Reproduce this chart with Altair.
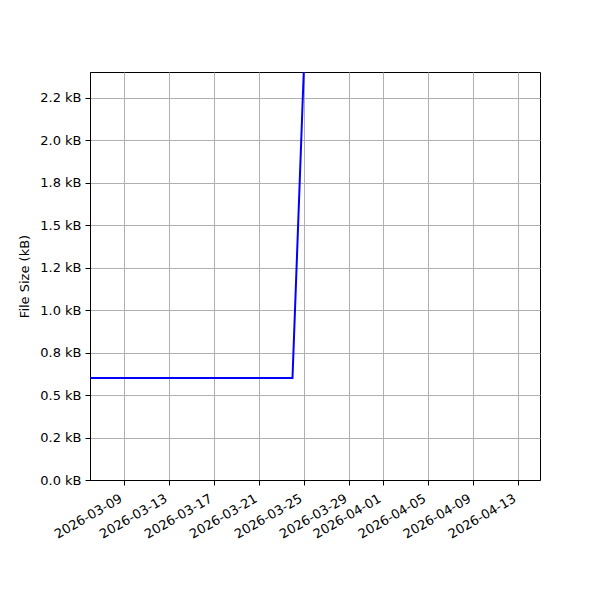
import altair as alt
import pandas as pd

dates = ["2026-03-06", "2026-03-24", "2026-03-25"]
sizes_bytes = [615, 615, 2460]

y_tick_values = [0, 256, 512, 768, 1024, 1280, 1536, 1792, 2048, 2304]
y_tick_labels = ["0.0 kB", "0.2 kB", "0.5 kB", "0.8 kB", "1.0 kB", "1.2 kB",
                 "1.5 kB", "1.8 kB", "2.0 kB", "2.2 kB"]
x_tick_dates = ["2026-03-09", "2026-03-13", "2026-03-17", "2026-03-21", "2026-03-25",
                "2026-03-29", "2026-04-01", "2026-04-05", "2026-04-09", "2026-04-13"]
x_domain = ["2026-03-06", "2026-04-15"]
y_domain = [0, 2460]


def dt(s):
    y, m, d = (int(p) for p in s.split("-"))
    return alt.DateTime(year=y, month=m, date=d, utc=True)


df = pd.DataFrame({"date": dates, "size": sizes_bytes})

label_array = "[" + ",".join("'" + l + "'" for l in y_tick_labels) + "]"

FONT = "DejaVu Sans"

chart = alt.Chart(df).mark_line(color="#0000ff", strokeWidth=2, clip=True).encode(
    x=alt.X(
        "date:T",
        scale=alt.Scale(type="utc", domain=[dt(x_domain[0]), dt(x_domain[1])]),
        axis=alt.Axis(
            values=[dt(s) for s in x_tick_dates],
            format="%Y-%m-%d",
            formatType="time",
            labelAngle=-30,
            labelAlign="right",
            labelBaseline="top",
            labelOffset=-6,
            labelPadding=7,
            title=None,
            grid=True,
        ),
    ),
    y=alt.Y(
        "size:Q",
        scale=alt.Scale(domain=y_domain, nice=False, zero=True),
        axis=alt.Axis(
            values=y_tick_values,
            labelExpr=label_array + "[round(datum.value/256)]",
            title="File Size (kB)",
            titlePadding=8,
            labelPadding=4,
            grid=True,
        ),
    ),
).properties(
    width=450,
    height=408,
    autosize=alt.AutoSizeParams(type="none"),
    padding={"left": 82, "top": 64, "right": 50, "bottom": 100},
).configure(
    background="white"
).configure_view(
    stroke="black", strokeWidth=1
).configure_axis(
    labelFont=FONT,
    titleFont=FONT,
    labelFontSize=13,
    titleFontSize=13,
    titleFontWeight="normal",
    labelColor="black",
    titleColor="black",
    domainColor="black",
    domainWidth=1,
    tickColor="black",
    tickSize=5,
    tickWidth=1,
    gridColor="#b0b0b0",
    gridWidth=1,
    gridOpacity=1,
    labelFlush=False,
    labelOverlap=False,
)

chart.save("out.html", embed_options={"renderer": "svg", "actions": False})
